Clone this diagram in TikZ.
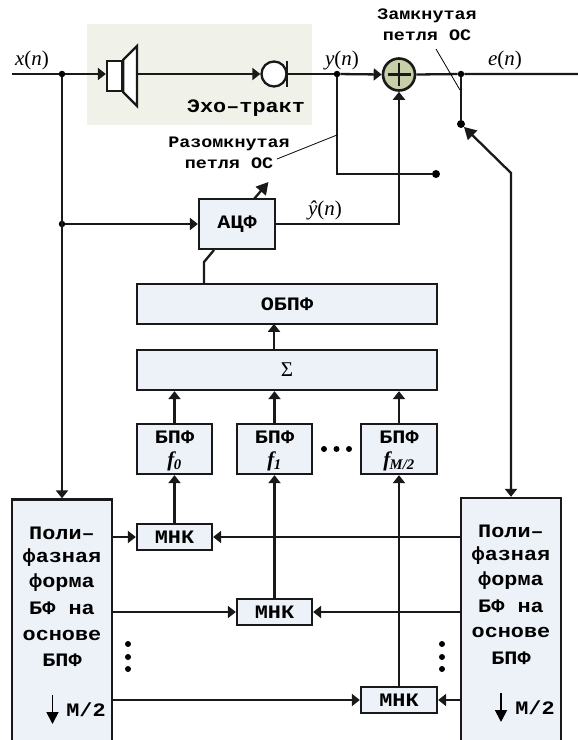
\documentclass[tikz,border=0pt]{standalone}
\usepackage{fontspec}
\setmainfont{Liberation Serif}
\newfontfamily\cf[FakeStretch=1.15]{Liberation Mono}
\usetikzlibrary{arrows.meta}
\definecolor{boxfill}{HTML}{EDF1F8}
\definecolor{echofill}{HTML}{F0F1E9}
\definecolor{addfill}{HTML}{C6CFA8}
\tikzset{
 wire/.style={line width=2.3pt,draw=black!90},
 arr/.style={wire,-{Triangle[length=8pt,width=12pt]}},
 dblarr/.style={wire,{Triangle[length=8pt,width=12pt]}-{Triangle[length=12pt,width=13pt]}},
 bigarr/.style={wire,-{Triangle[length=12pt,width=13pt]}},
 leader/.style={line width=.8pt,draw=black},
 blockbox/.style={draw=black!90,line width=2.3pt,fill=boxfill,inner sep=0pt,font=\cf\bfseries\fontsize{19}{22}\selectfont},
 lab/.style={inner sep=0pt,font=\cf\bfseries\fontsize{16}{21}\selectfont,align=center},
 sig/.style={inner sep=0pt,font=\fontsize{21}{24}\selectfont},
 joint/.style={circle,fill=black,inner sep=0pt,minimum size=6.5pt},
 bigjoint/.style={circle,fill=black,inner sep=0pt,minimum size=8pt},
 ptxt/.style={inner sep=0pt,font=\cf\bfseries\fontsize{19}{22}\selectfont},
}
\begin{document}
\begin{tikzpicture}[x=1pt,y=-1pt]
\useasboundingbox (0,0) rectangle (578,740);
\node[fill=echofill,minimum width=225pt,minimum height=101pt,inner sep=0pt] (echo) at (199.5,74.5) {};
% coordinates
\coordinate (xin) at (12,74);
\coordinate (eout) at (578,74);
\node[joint] (jx) at (62,74) {};
\node[joint] (jbranch) at (62,224) {};
\node[joint] (jy) at (337,74) {};
\node[joint] (je) at (461,74) {};
\node[bigjoint] (sw1) at (461,124) {};
\node[bigjoint] (sw2) at (436,174) {};
\coordinate (cy) at (337,174);
\coordinate (bend) at (511,173);
% speaker
\node[draw=black!90,line width=2.3pt,fill=white,minimum width=15pt,minimum height=30pt,inner sep=0pt] (spk) at (114.5,76) {};
\draw[wire,fill=white,line join=miter] (spk.north east) -- (137,46) -- (137,106) -- (spk.south east) -- cycle;
\coordinate (spkout) at (137,74);
% mic
\node[draw=black!90,line width=2.3pt,fill=white,circle,minimum size=25pt,inner sep=0pt] (mic) at (274,74) {};
\coordinate (mictop) at (287,61);
\coordinate (micbot) at (287,87);
\coordinate (micbar) at (287,74);
\draw[wire] (mictop) -- (micbot);
% adder
\node[draw=black!90,line width=2.6pt,fill=addfill,circle,minimum size=32pt,inner sep=0pt] (add) at (399,74.5) {};
\draw[wire] (add)+(-11.5,0) -- +(11.5,0);
\draw[wire] (add)+(0,-11.5) -- +(0,11.5);
% blocks
\node[blockbox,minimum width=76pt,minimum height=50pt] (acf) at (237,224) {АЦФ};
\node[blockbox,minimum width=300pt,minimum height=40pt] (obpf) at (287,304) {ОБПФ};
\node[blockbox,minimum width=300pt,minimum height=40pt] (sum) at (287,370) {};
\node[inner sep=0pt,font=\fontsize{21}{22}\selectfont] at (sum) {Σ};
\node[blockbox,minimum width=75pt,minimum height=50pt] (fa) at (174.5,449) {};
\node[blockbox,minimum width=75pt,minimum height=50pt] (fb) at (274.5,449) {};
\node[blockbox,minimum width=76pt,minimum height=50pt] (fc) at (399,449) {};
\foreach \n/\t in {fa/{f\textsubscript{\kern-.5pt 0}},fb/{f\textsubscript{\kern-.5pt 1}},fc/{f\textsubscript{\kern-.5pt M/2}}}{
 \node[ptxt,anchor=center] at ([yshift=12pt]\n.center) {БПФ};
 \node[inner sep=0pt,font=\bfseries\itshape\fontsize{21}{24}\selectfont] at ([yshift=-12pt]\n.center) {\t};
}
\node[blockbox,minimum width=75pt,minimum height=26pt] (ma) at (174.5,537) {МНК};
\node[blockbox,minimum width=75pt,minimum height=26pt] (mb) at (274.5,612) {МНК};
\node[blockbox,minimum width=76pt,minimum height=26pt] (mc) at (399,700) {МНК};
\node[blockbox,minimum width=100pt,minimum height=245pt] (lb) at (62,622) {};
\node[blockbox,minimum width=100pt,minimum height=245pt] (rb) at (511,620.5) {};
% box texts
\foreach \c/\y/\t in {62/533/Поли–,62/558/фазная,62/583/форма,62/608/БФ на,62/635/основе,62/660/БПФ,
 511/531/Поли–,511/556/фазная,511/581/форма,511/606/БФ на,511/632/основе,511/658/БПФ}{
 \node[ptxt] at (\c,\y) {\t};
}
\node[ptxt] (ml) at (86,710) {М/2};
\node[ptxt] (mr) at (535,708) {М/2};
\coordinate (dla) at (52.5,695); \coordinate (dlb) at (52.5,724);
\coordinate (dra) at (501,693); \coordinate (drb) at (501,722);
\draw[line width=1.8pt,-{Triangle[length=12pt,width=12pt]}] (dla) -- (dlb);
\draw[line width=1.8pt,-{Triangle[length=12pt,width=12pt]}] (dra) -- (drb);
% connectors
\draw[wire] (xin) -- (jx);
\draw[arr] (jx) -- (spk.west|-jx);
\draw[arr] (spkout) -- (mic.west);
\draw[wire] (micbar) -- (jy);
\draw[arr] (jy) -- (add.west);
\draw[wire] (add.east) -- (je) -- (eout);
\draw[wire] (jy) -- (cy) -- (sw2);
\draw[wire] (je) -- (sw1);
\draw[arr] (jx) -- (lb.north);
\draw[arr] (jbranch) -- (acf.west);
\draw[arr] (acf.east) -| (add.south);
\coordinate (acftop) at (254,199);
\coordinate (acftip) at (268.5,182);
\draw[bigarr] (acftop) -- (acftip);
\coordinate (acfb) at (214,250);
\coordinate (kink) at (204,262);
\coordinate (obt) at (204,284);
\draw[wire] (acfb) -- (kink) -- (obt);
\draw[arr] (sum.north-|obpf.center) ++(-13,0) -- ++(0,-25);
\draw[arr] (fa.north) -- (fa.north|-sum.south);
\draw[arr] (fb.north) -- (fb.north|-sum.south);
\draw[arr] (fc.north) -- (fc.north|-sum.south);
\draw[arr] (ma.north) -- (fa.south);
\draw[arr] (mb.north) -- (fb.south);
\draw[arr] (mc.north) -- (fc.south);
\draw[arr] (lb.east|-ma) -- (ma.west);
\draw[arr] (rb.west|-ma) -- (ma.east);
\draw[arr] (lb.east|-mb) -- (mb.west);
\draw[arr] (rb.west|-mb) -- (mb.east);
\draw[arr] (lb.east|-mc) -- (mc.west);
\draw[arr] (rb.west|-mc) -- (mc.east);
\draw[dblarr] (rb.north) -- (bend) -- (sw1);
% texts
\node[inner sep=0pt,font=\cf\bfseries\fontsize{19}{22}\selectfont] (et) at (246,108) {Эхо–тракт};
\node[sig] (lx) at (32,60) {\textit{x}(\textit{n})};
\node[sig] (ly) at (342,60) {\textit{y}(\textit{n})};
\node[sig] (le) at (505,60) {\textit{e}(\textit{n})};
\node[sig] (lh) at (325,210) {\textit{ŷ}(\textit{n})};
\node[lab] (closed) at (427,25) {Замкнутая\\петля ОС};
\node[lab] (open) at (229,152.5) {Разомкнутая\\ петля ОС};
\coordinate (cl) at (436,49); \coordinate (cr) at (460,90);
\coordinate (ol) at (277,159); \coordinate (or) at (337,135);
\draw[leader] (cl) -- (cr);
\draw[leader] (ol) -- (or);
% dots
\foreach \x/\y in {324/449,336.5/449,349/449,128/644,128/657,128/669,442/644,442/657,442/669}{
 \fill (\x,\y) circle (3pt);
}
\end{tikzpicture}
\end{document}
